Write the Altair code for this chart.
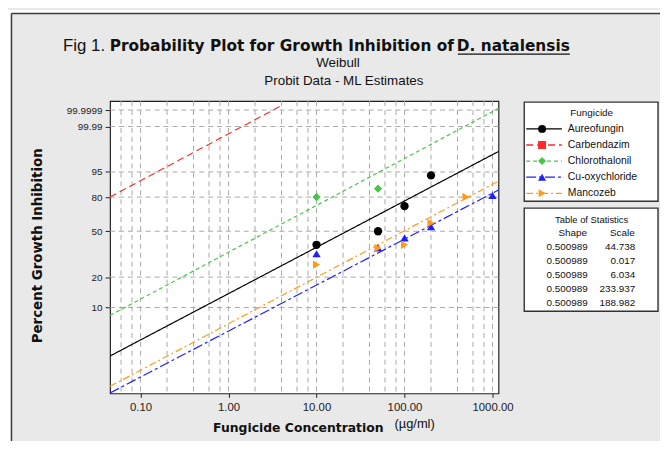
import math
import altair as alt
import pandas as pd

# ---------------- data ----------------
fungicides = ["Aureofungin", "Carbendazim", "Chlorothalonil", "Cu-oxychloride", "Mancozeb"]
colors = ["#000000", "#ff2a2a", "#4cc44c", "#1f1fff", "#ff9a1a"]
shapes = ["circle", "square", "diamond", "triangle-up", "triangle-right"]
dashes = [[1, 0], [7, 4], [4, 3], [10, 3, 3, 3], [7, 3, 2, 3]]

# observed points (concentration ug/ml, percent inhibition)
pt_fungicide = (["Aureofungin"] * 4 + ["Chlorothalonil"] * 2
                + ["Cu-oxychloride"] * 5 + ["Mancozeb"] * 5)
pt_conc = [10, 50, 100, 200,
           10, 50,
           10, 50, 100, 200, 1000,
           10, 50, 100, 200, 500]
pt_pct = [39.1, 50.0, 72.4, 93.6,
          80.1, 86.2,
          32.8, 36.9, 44.5, 53.9, 81.4,
          26.2, 36.7, 39.1, 57.2, 80.1]

# fitted lines (end points)
line_fungicide = [f for f in fungicides for _ in range(2)]
line_conc = [0.045, 1170, 0.045, 3.9, 0.045, 1170, 0.045, 1170, 0.045, 1170]
line_pct = [3.133, 99.303, 80.12, 99.999976, 8.31, 99.999944,
            1.270, 85.30, 1.494, 90.83]

# table of statistics
shape_vals = ["0.500989"] * 5
scale_vals = ["44.738", "0.017", "6.034", "233.937", "188.982"]

# axes
x_ticks = [0.1, 1, 10, 100, 1000]
x_grid = [0.06, 0.08, 0.1, 0.2, 0.4, 0.6, 0.8, 1, 2, 4, 6, 8, 10, 20, 40, 60, 80,
          100, 200, 400, 600, 800, 1000]
y_ticks = [10, 20, 50, 80, 95, 99.99, 99.9999]

# ---------------- chart ----------------
W, H = 392, 295
WEIB = "log(-log(1 - datum.pct/100))"
y_tick_w = [float(math.log(-math.log(1 - p / 100.0))) for p in y_ticks]

xscale = alt.Scale(type="log", domain=[0.045, 1170], nice=False)
yscale = alt.Scale(domain=[-4.372, 2.846], nice=False, zero=False)
cscale = alt.Scale(domain=fungicides, range=colors)
sscale = alt.Scale(domain=fungicides, range=shapes)
dscale = alt.Scale(domain=fungicides, range=dashes)

x_axis = alt.Axis(values=x_ticks, labelExpr="format(datum.value, '.2f')", title=None,
                  grid=False, domain=False, tickSize=4, tickColor="#222",
                  labelFont="Liberation Sans", labelFontSize=11.5, labelColor="#222",
                  labelPadding=4, labelFlush=False)
y_axis = alt.Axis(values=y_tick_w,
                  labelExpr="format((1 - exp(-exp(datum.value))) * 100, '.6~r')",
                  title=None, grid=False, domain=False, tickSize=5, tickColor="#222",
                  labelFont="Liberation Sans", labelFontSize=10, labelColor="#222",
                  labelPadding=3, labelFlush=False)

dummy = pd.DataFrame({"a": [0]})


def vrect(x, x2, y, y2, **kw):
    return alt.Chart(dummy).mark_rect(**kw).encode(
        x=alt.value(x), x2=alt.value(x2), y=alt.value(y), y2=alt.value(y2))


def label(txt, x, y, **kw):
    return alt.Chart(dummy).mark_text(text=txt, **kw).encode(
        x=alt.value(x), y=alt.value(y))


# page frame (white strip + dark border)
strip_top = vrect(-103, 600, -92, -89, fill="white")
strip_left = vrect(-103, -100, -92, 400, fill="white")
border_v = alt.Chart(dummy).mark_rule(color="#3a3a3a", strokeWidth=1.5).encode(
    x=alt.value(-99.5), y=alt.value(-88.5), y2=alt.value(400))
border_h = alt.Chart(dummy).mark_rule(color="#3a3a3a", strokeWidth=1.5).encode(
    x=alt.value(-99.5), x2=alt.value(600), y=alt.value(-88.5))

# grid
vgrid = alt.Chart(pd.DataFrame({"g": x_grid})).mark_rule(
    color="#a8a8a8", strokeWidth=1, strokeDash=[5, 4]).encode(
    x=alt.X("g:Q", scale=xscale, axis=x_axis))
hgrid = alt.Chart(pd.DataFrame({"pct": y_ticks})).transform_calculate(
    w=WEIB).mark_rule(color="#a8a8a8", strokeWidth=1, strokeDash=[5, 4]).encode(
    y=alt.Y("w:Q", scale=yscale, axis=y_axis))

# fitted lines
lines = alt.Chart(pd.DataFrame({"fungicide": line_fungicide, "conc": line_conc,
                                "pct": line_pct})).transform_calculate(
    w=WEIB).mark_line(strokeWidth=1.2).encode(
    x=alt.X("conc:Q", scale=xscale, axis=x_axis),
    y=alt.Y("w:Q", scale=yscale, axis=y_axis),
    color=alt.Color("fungicide:N", scale=cscale, legend=None),
    strokeDash=alt.StrokeDash("fungicide:N", scale=dscale, legend=None),
    detail="fungicide:N")

points = alt.Chart(pd.DataFrame({"fungicide": pt_fungicide, "conc": pt_conc,
                                 "pct": pt_pct})).transform_calculate(
    w=WEIB).mark_point(filled=True, size=70, opacity=1).encode(
    x=alt.X("conc:Q", scale=xscale, axis=x_axis),
    y=alt.Y("w:Q", scale=yscale, axis=y_axis),
    color=alt.Color("fungicide:N", scale=cscale, legend=None),
    shape=alt.Shape("fungicide:N", scale=sscale, legend=None))

# legend
leg_df = pd.DataFrame({"fungicide": fungicides, "i": list(range(len(fungicides)))})
leg_base = alt.Chart(leg_df).transform_calculate(ly="28 + 16.25*datum.i")
leg_box = vrect(418, 553, 1, 101, fill="white", stroke="#333", strokeWidth=1.4)
leg_title = label("Fungicide", 486, 12, font="Liberation Sans", fontSize=10,
                  color="#111")
leg_rules = leg_base.mark_rule(strokeWidth=1.3).encode(
    x=alt.value(420), x2=alt.value(456),
    y=alt.Y("ly:Q", scale=None, axis=None),
    color=alt.Color("fungicide:N", scale=cscale, legend=None),
    strokeDash=alt.StrokeDash("fungicide:N", scale=dscale, legend=None))
leg_pts = leg_base.mark_point(filled=True, size=65, opacity=1).encode(
    x=alt.value(436),
    y=alt.Y("ly:Q", scale=None, axis=None),
    color=alt.Color("fungicide:N", scale=cscale, legend=None),
    shape=alt.Shape("fungicide:N", scale=sscale, legend=None))
leg_text = leg_base.mark_text(align="left", baseline="middle", font="Liberation Sans",
                              fontSize=10.5, color="#111").encode(
    x=alt.value(462), y=alt.Y("ly:Q", scale=None, axis=None), text="fungicide:N")

# table of statistics
tab_df = pd.DataFrame({"shape": shape_vals, "scale": scale_vals,
                       "i": list(range(len(shape_vals)))})
tab_base = alt.Chart(tab_df).transform_calculate(ty="147 + 14.25*datum.i")
tab_box = vrect(418, 553, 108, 212, fill="white", stroke="#333", strokeWidth=1.4)
tab_title = label("Table of Statistics", 486, 120, font="Liberation Sans",
                  fontSize=9.5, color="#111")
tab_h1 = label("Shape", 467, 133, font="Liberation Sans", fontSize=10, color="#111")
tab_h2 = label("Scale", 517, 133, font="Liberation Sans", fontSize=10, color="#111")
tab_shape = tab_base.mark_text(align="right", baseline="middle", font="Liberation Sans",
                               fontSize=10, color="#111").encode(
    x=alt.value(482), y=alt.Y("ty:Q", scale=None, axis=None), text="shape:N")
tab_scale = tab_base.mark_text(align="right", baseline="middle", font="Liberation Sans",
                               fontSize=10, color="#111").encode(
    x=alt.value(530), y=alt.Y("ty:Q", scale=None, axis=None), text="scale:N")

# titles
t_fig = label("Fig 1.", -5, -51, align="right", baseline="alphabetic",
              font="Liberation Sans", fontSize=17, color="#111")
t_main = label("Probability Plot for Growth Inhibition of", 347, -51, align="right",
               baseline="alphabetic", font="DejaVu Sans", fontWeight="bold",
               fontSize=15.5, color="#111")
t_sp = label("D. natalensis", 464, -51, align="right", baseline="alphabetic",
             font="DejaVu Sans", fontWeight="bold", fontSize=15.5, color="#111")
t_ul = alt.Chart(dummy).mark_rule(color="#111", strokeWidth=1.2).encode(
    x=alt.value(351), x2=alt.value(464), y=alt.value(-47.5))
t_sub1 = label("Weibull", 230, -38, font="Liberation Sans", fontSize=13.5, color="#111")
t_sub2 = label("Probit Data - ML Estimates", 236, -20, font="Liberation Sans",
               fontSize=13.5, color="#111")
t_x = label("Fungicide Concentration", 104, 330, align="left", font="DejaVu Sans",
            fontWeight="bold", fontSize=12.5, color="#111")
t_xu = label("(\u00b5g/ml)", 287, 326, align="left", font="Liberation Sans",
             fontSize=13, color="#111")
t_y = label("Percent Growth Inhibition", -73, 146, angle=270, font="DejaVu Sans",
            fontWeight="bold", fontSize=13.5, color="#111")

chart = alt.layer(
    strip_top, strip_left, border_v, border_h,
    vgrid, hgrid, lines, points,
    leg_box, leg_title, leg_rules, leg_pts, leg_text,
    tab_box, tab_title, tab_h1, tab_h2, tab_shape, tab_scale,
    t_fig, t_main, t_sp, t_ul, t_sub1, t_sub2, t_x, t_xu, t_y,
).properties(
    width=W, height=H,
    autosize=alt.AutoSizeParams(type="none"),
    padding={"left": 103, "top": 92, "right": 163, "bottom": 46},
).configure(background="#e9e9e9").configure_view(
    fill="white", stroke="#222", strokeWidth=1.2)

chart.save("out.html", embed_options={"renderer": "svg", "actions": False})
